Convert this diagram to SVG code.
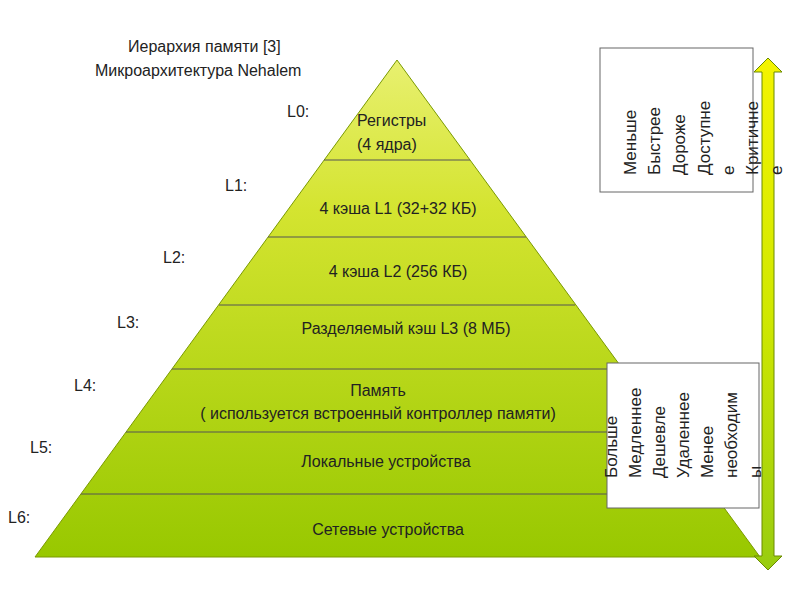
<svg xmlns="http://www.w3.org/2000/svg" width="800" height="600" viewBox="0 0 800 600">
<defs>
<linearGradient id="pg" x1="0" y1="0" x2="0" y2="1"><stop offset="0" stop-color="#e8f070"/><stop offset="0.3" stop-color="#d4e430"/><stop offset="1" stop-color="#98c800"/></linearGradient>
<linearGradient id="ag" x1="0" y1="0" x2="0" y2="1"><stop offset="0" stop-color="#f4f400"/><stop offset="0.5" stop-color="#d0e800"/><stop offset="1" stop-color="#98cc10"/></linearGradient>
<style>
text{font-family:"Liberation Sans",Arial,sans-serif;font-size:16px;fill:#222}
.c{text-anchor:middle}
.v{font-size:17px}
line.b{stroke:#555;stroke-width:1}
</style>
</defs>
<rect width="800" height="600" fill="#fff"/>
<g id="pyramid">
<polygon points="397,60 760,557 35,557" fill="url(#pg)" stroke="#7a9a00" stroke-width="1"/>
<line class="b" x1="324" y1="160" x2="470" y2="160"/>
<line class="b" x1="268" y1="237" x2="526" y2="237"/>
<line class="b" x1="219" y1="305" x2="575" y2="305"/>
<line class="b" x1="172" y1="369" x2="622" y2="369"/>
<line class="b" x1="126" y1="432" x2="668" y2="432"/>
<line class="b" x1="81" y1="494" x2="714" y2="494"/>
</g>
<g id="labels">
<text x="128" y="52">Иерархия памяти [3]</text>
<text x="95" y="76">Микроархитектура Nehalem</text>
<text x="287" y="117">L0:</text>
<text x="225" y="191">L1:</text>
<text x="163" y="263">L2:</text>
<text x="117" y="328">L3:</text>
<text x="74" y="391">L4:</text>
<text x="30" y="453">L5:</text>
<text x="8" y="523">L6:</text>
<text x="357" y="126">Регистры</text>
<text x="357" y="150">(4 ядра)</text>
<text class="c" x="398" y="214">4 кэша L1 (32+32 КБ)</text>
<text class="c" x="398" y="277">4 кэша L2 (256 КБ)</text>
<text class="c" x="406" y="334">Разделяемый кэш L3 (8 МБ)</text>
<text class="c" x="378" y="396">Память</text>
<text class="c" x="378" y="419">( используется встроенный контроллер памяти)</text>
<text class="c" x="386" y="467">Локальные устройства</text>
<text class="c" x="388" y="535">Сетевые устройства</text>
</g>
<g id="arrow">
<polygon points="768,58 782,72 774,72 774,556 782,556 768,570 754,556 762,556 762,72 754,72" fill="url(#ag)" stroke="#6a8a00" stroke-width="1"/>
</g>
<g id="box-top">
<rect x="600" y="48" width="153" height="144" fill="#fff" stroke="#666"/>
<g class="v">
<text class="v" transform="translate(636,175) rotate(-90)">Меньше</text>
<text class="v" transform="translate(660,175) rotate(-90)">Быстрее</text>
<text class="v" transform="translate(685,175) rotate(-90)">Дороже</text>
<text class="v" transform="translate(710,175) rotate(-90)">Доступне</text>
<text class="v" transform="translate(734,175) rotate(-90)">е</text>
<text class="v" transform="translate(758,175) rotate(-90)">Критичне</text>
<text class="v" transform="translate(782,175) rotate(-90)">е</text>
</g>
</g>
<g id="box-bottom">
<rect x="607" y="363" width="152" height="145" fill="#fff" stroke="#666"/>
<text class="v" transform="translate(617,478) rotate(-90)">Больше</text>
<text class="v" transform="translate(641,478) rotate(-90)">Медленнее</text>
<text class="v" transform="translate(665,478) rotate(-90)">Дешевле</text>
<text class="v" transform="translate(689,478) rotate(-90)">Удаленнее</text>
<text class="v" transform="translate(713,478) rotate(-90)">Менее</text>
<text class="v" transform="translate(737,478) rotate(-90)">необходим</text>
<text class="v" transform="translate(761,478) rotate(-90)">ы</text>
</g>
</svg>
